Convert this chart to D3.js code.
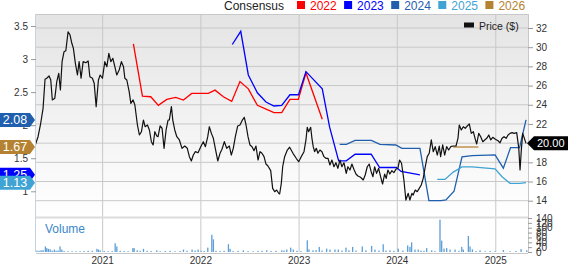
<!DOCTYPE html>
<html>
<head>
<meta charset="utf-8">
<script src="https://cdn.jsdelivr.net/npm/d3@7"></script>
<style>
  html, body { margin: 0; padding: 0; background: #fff; }
  svg { display: block; font-family: "Liberation Sans", Arial, sans-serif; }
</style>
</head>
<body>
<svg id="chart" width="568" height="264"></svg>
<script>
// ---- data (time as decimal year) ----
const years = [2021, 2022, 2023, 2024, 2025];
const priceTicks = [14, 16, 18, 20, 22, 24, 26, 28, 30, 32];
const epsTicks = [1, 1.5, 2, 2.5, 3, 3.5];
const volumeTicks = [0, 20, 40, 60, 80, 100, 120, 140];
const lastPrice = 20.00;

const price = [
  [2020.313, 19.70], [2020.344, 20.67], [2020.371, 22.07], [2020.395, 23.63], [2020.415, 26.65],
  [2020.432, 26.76], [2020.456, 27.00], [2020.473, 26.58], [2020.489, 24.50], [2020.514, 24.67],
  [2020.534, 26.40], [2020.554, 27.28], [2020.571, 25.54], [2020.588, 28.49], [2020.608, 29.53],
  [2020.626, 29.63], [2020.649, 31.61], [2020.669, 31.27], [2020.687, 30.41], [2020.703, 29.88],
  [2020.723, 28.32], [2020.744, 27.10], [2020.761, 28.49], [2020.781, 26.76], [2020.802, 28.49],
  [2020.829, 28.38], [2020.853, 28.56], [2020.870, 26.92], [2020.896, 26.76], [2020.914, 26.24],
  [2020.934, 23.80], [2020.957, 26.58], [2020.975, 27.10], [2020.998, 26.76], [2021.022, 28.49],
  [2021.043, 27.97], [2021.063, 29.36], [2021.083, 28.49], [2021.104, 28.84], [2021.124, 27.97],
  [2021.144, 27.10], [2021.168, 27.62], [2021.191, 28.49], [2021.212, 27.97], [2021.226, 26.76],
  [2021.246, 26.58], [2021.270, 25.36], [2021.287, 24.15], [2021.310, 24.50], [2021.328, 23.97],
  [2021.354, 21.89], [2021.374, 20.85], [2021.395, 21.19], [2021.415, 22.41], [2021.432, 21.71],
  [2021.456, 21.89], [2021.476, 21.37], [2021.496, 20.15], [2021.514, 19.81], [2021.531, 21.19],
  [2021.551, 20.74], [2021.564, 20.67], [2021.585, 21.79], [2021.605, 21.55], [2021.625, 19.46],
  [2021.646, 21.37], [2021.666, 22.41], [2021.679, 22.41], [2021.700, 23.80], [2021.714, 22.41],
  [2021.734, 21.37], [2021.755, 20.67], [2021.781, 20.33], [2021.808, 19.46], [2021.836, 19.70],
  [2021.862, 19.46], [2021.883, 18.59], [2021.903, 18.14], [2021.923, 18.76], [2021.944, 19.11],
  [2021.971, 19.00], [2021.999, 19.63], [2022.025, 20.15], [2022.046, 19.63], [2022.070, 20.67],
  [2022.086, 21.71], [2022.107, 21.02], [2022.127, 20.50], [2022.147, 19.46], [2022.172, 18.14],
  [2022.195, 18.94], [2022.215, 19.36], [2022.239, 20.15], [2022.263, 19.46], [2022.290, 19.70],
  [2022.310, 18.76], [2022.330, 19.46], [2022.351, 20.67], [2022.375, 21.79], [2022.398, 21.89],
  [2022.419, 22.34], [2022.442, 22.69], [2022.460, 21.89], [2022.480, 20.67], [2022.500, 19.81],
  [2022.521, 19.63], [2022.541, 19.21], [2022.561, 19.70], [2022.582, 18.24], [2022.602, 19.11],
  [2022.622, 18.94], [2022.643, 18.59], [2022.663, 17.82], [2022.683, 17.62], [2022.711, 17.13],
  [2022.731, 15.29], [2022.752, 14.94], [2022.772, 15.11], [2022.792, 14.77], [2022.802, 14.70],
  [2022.819, 15.81], [2022.833, 17.54], [2022.853, 18.59], [2022.880, 19.28], [2022.904, 19.57],
  [2022.938, 18.94], [2022.971, 18.42], [2022.996, 18.06], [2023.022, 18.59], [2023.050, 19.11],
  [2023.070, 20.33], [2023.083, 21.65], [2023.097, 21.19], [2023.118, 21.65], [2023.131, 20.50],
  [2023.144, 19.63], [2023.158, 19.11], [2023.175, 19.46], [2023.192, 18.94], [2023.212, 19.28],
  [2023.233, 19.11], [2023.253, 18.59], [2023.273, 18.42], [2023.294, 18.42], [2023.314, 17.72],
  [2023.334, 18.24], [2023.355, 17.54], [2023.375, 17.96], [2023.395, 17.38], [2023.416, 18.24],
  [2023.436, 17.54], [2023.457, 17.96], [2023.480, 16.85], [2023.497, 17.54], [2023.518, 17.20],
  [2023.538, 17.82], [2023.558, 17.27], [2023.579, 16.78], [2023.599, 16.57], [2023.626, 16.44],
  [2023.653, 16.16], [2023.673, 16.68], [2023.694, 17.54], [2023.714, 17.82], [2023.734, 17.02],
  [2023.752, 16.50], [2023.769, 17.54], [2023.789, 16.85], [2023.810, 17.38], [2023.830, 16.50],
  [2023.850, 15.74], [2023.871, 16.78], [2023.887, 16.33], [2023.904, 17.20], [2023.924, 16.78],
  [2023.945, 17.13], [2023.965, 16.92], [2023.985, 17.27], [2024.006, 17.38], [2024.023, 18.24],
  [2024.043, 17.90], [2024.067, 16.16], [2024.087, 14.07], [2024.111, 14.77], [2024.128, 14.07],
  [2024.148, 14.77], [2024.161, 14.59], [2024.182, 15.11], [2024.202, 14.94], [2024.223, 15.29],
  [2024.243, 15.64], [2024.263, 16.33], [2024.284, 17.54], [2024.304, 18.59], [2024.324, 18.94],
  [2024.345, 20.33], [2024.365, 19.11], [2024.385, 19.63], [2024.406, 18.76], [2024.426, 19.70],
  [2024.440, 18.59], [2024.461, 19.81], [2024.481, 18.76], [2024.501, 19.63], [2024.522, 19.28],
  [2024.542, 19.63], [2024.568, 19.70], [2024.596, 19.70], [2024.616, 20.50], [2024.629, 21.89],
  [2024.650, 21.37], [2024.670, 21.71], [2024.690, 21.55], [2024.711, 21.79], [2024.731, 22.00],
  [2024.751, 21.02], [2024.772, 21.19], [2024.792, 20.40], [2024.806, 19.91], [2024.827, 21.02],
  [2024.847, 20.67], [2024.868, 20.15], [2024.888, 20.33], [2024.908, 20.50], [2024.929, 20.85],
  [2024.949, 20.33], [2024.969, 20.61], [2024.996, 20.40], [2025.023, 20.25], [2025.043, 20.04],
  [2025.064, 20.50], [2025.084, 20.67], [2025.105, 20.50], [2025.125, 20.85], [2025.145, 21.02],
  [2025.166, 21.09], [2025.186, 21.02], [2025.213, 21.09], [2025.234, 19.46], [2025.247, 17.20],
  [2025.260, 19.28], [2025.274, 21.02], [2025.291, 20.50], [2025.308, 19.98]
];

// consensus EPS estimates per fiscal year
const eps2022 = [
  [2021.313, 3.23], [2021.405, 2.44], [2021.490, 2.43], [2021.567, 2.30], [2021.653, 2.39],
  [2021.744, 2.42], [2021.822, 2.38], [2021.907, 2.48], [2022.076, 2.48], [2022.144, 2.53],
  [2022.229, 2.43], [2022.314, 2.36], [2022.398, 2.66], [2022.483, 2.55], [2022.575, 2.30],
  [2022.670, 2.24], [2022.744, 2.19], [2022.823, 2.19], [2022.907, 2.39], [2022.992, 2.39],
  [2023.070, 2.79], [2023.236, 2.09]
];
const eps2023 = [
  [2022.320, 3.22], [2022.406, 3.42], [2022.483, 2.76], [2022.575, 2.49], [2022.663, 2.35],
  [2022.744, 2.29], [2022.823, 2.30], [2022.907, 2.46], [2022.994, 2.46], [2023.070, 2.81],
  [2023.236, 2.55], [2023.311, 1.97], [2023.403, 1.46], [2023.480, 1.46], [2023.571, 1.56],
  [2023.734, 1.56], [2023.820, 1.36], [2023.989, 1.36], [2024.039, 1.30], [2024.230, 1.25]
];
const eps2024 = [
  [2023.413, 1.71], [2023.482, 1.71], [2023.570, 1.77], [2023.736, 1.77], [2023.823, 1.71],
  [2023.985, 1.70], [2024.047, 1.65], [2024.230, 1.65], [2024.321, 0.86], [2024.443, 0.86],
  [2024.494, 0.87], [2024.576, 1.00], [2024.657, 1.52], [2024.759, 1.54], [2024.993, 1.55],
  [2025.077, 1.35], [2025.150, 1.66], [2025.242, 1.66], [2025.308, 2.08]
];
const eps2025 = [
  [2024.406, 1.18], [2024.484, 1.18], [2024.568, 1.29], [2024.657, 1.37], [2024.759, 1.37],
  [2024.993, 1.34], [2025.064, 1.22], [2025.145, 1.12], [2025.247, 1.12], [2025.308, 1.13]
];
const eps2026 = [[2024.568, 1.67], [2024.823, 1.67]];

// weekly volume (weeks with a visible bar)
const volume = [
  [2020.333, 6], [2020.354, 5], [2020.374, 7], [2020.394, 8], [2020.418, 23], [2020.432, 16],
  [2020.448, 13], [2020.466, 11], [2020.486, 6], [2020.509, 10], [2020.527, 5], [2020.547, 6],
  [2020.567, 23], [2020.585, 10], [2020.608, 4], [2020.649, 3], [2020.689, 3], [2020.730, 3],
  [2020.771, 3], [2020.811, 4], [2020.852, 5], [2020.893, 5], [2020.941, 13], [2020.957, 10],
  [2020.974, 6], [2021.015, 4], [2021.056, 3], [2021.096, 4], [2021.127, 36], [2021.144, 23],
  [2021.178, 5], [2021.218, 4], [2021.259, 3], [2021.307, 16], [2021.320, 16], [2021.351, 7],
  [2021.381, 5], [2021.415, 13], [2021.452, 5], [2021.493, 4], [2021.551, 7], [2021.585, 3],
  [2021.636, 4], [2021.686, 5], [2021.737, 3], [2021.788, 4], [2021.822, 10], [2021.859, 5],
  [2021.910, 10], [2021.941, 6], [2021.971, 10], [2022.002, 5], [2022.032, 4], [2022.070, 18],
  [2022.111, 71], [2022.127, 52], [2022.154, 5], [2022.195, 4], [2022.236, 5], [2022.280, 32],
  [2022.297, 13], [2022.327, 4], [2022.378, 5], [2022.432, 7], [2022.480, 4], [2022.531, 3],
  [2022.582, 4], [2022.622, 5], [2022.670, 7], [2022.714, 4], [2022.765, 5], [2022.823, 7],
  [2022.846, 6], [2022.874, 10], [2022.914, 18], [2022.941, 10], [2022.978, 5], [2023.019, 4],
  [2023.083, 48], [2023.100, 11], [2023.141, 7], [2023.172, 8], [2023.205, 21], [2023.233, 6],
  [2023.280, 14], [2023.314, 10], [2023.365, 10], [2023.399, 10], [2023.436, 6], [2023.477, 18],
  [2023.507, 7], [2023.545, 21], [2023.579, 6], [2023.643, 23], [2023.680, 7], [2023.738, 25],
  [2023.772, 10], [2023.813, 6], [2023.856, 32], [2023.884, 6], [2023.924, 7], [2023.965, 5],
  [2024.009, 14], [2024.057, 6], [2024.105, 27], [2024.128, 21], [2024.145, 40], [2024.179, 10],
  [2024.212, 10], [2024.240, 6], [2024.270, 5], [2024.298, 16], [2024.349, 7], [2024.382, 4],
  [2024.433, 133], [2024.450, 47], [2024.474, 14], [2024.501, 16], [2024.535, 10], [2024.586, 10],
  [2024.626, 5], [2024.654, 21], [2024.670, 10], [2024.721, 66], [2024.738, 23], [2024.762, 11],
  [2024.799, 4], [2024.840, 7], [2024.891, 3], [2024.942, 4], [2024.993, 3], [2025.077, 8],
  [2025.145, 3], [2025.206, 4], [2025.257, 12], [2025.315, 7]
];

const seriesColors = { 2022: '#ff0000', 2023: '#0000ff', 2024: '#1f5fae', 2025: '#3fa3d4', 2026: '#b58231' };

// ---- helpers ----
function toDate(t) {
  const y = Math.floor(t);
  const a = new Date(y, 0, 1), b = new Date(y + 1, 0, 1);
  return new Date(+a + (t - y) * (b - a));
}

const L = 36, R = 528, T = 14, PB = 217, VT = 218, VB = 252;

const x = d3.scaleTime().domain([toDate(2020.3232), toDate(2025.328)]).range([L, R]);
const yPrice = d3.scaleLinear().domain([14, 32]).range([200.7, 28]);
const yEps = d3.scaleLinear().domain([1, 3.5]).range([191.3, 26]);
const yVol = d3.scaleLinear().domain([0, 140]).range([VB, VT]);

const svg = d3.select('#chart');

// background gradient of price pane
const defs = svg.append('defs');
const grad = defs.append('linearGradient').attr('id', 'bg').attr('x1', 0).attr('y1', 0).attr('x2', 0).attr('y2', 1);
grad.append('stop').attr('offset', '0%').attr('stop-color', '#e4e4e4');
grad.append('stop').attr('offset', '100%').attr('stop-color', '#ffffff');
defs.append('clipPath').attr('id', 'clip').append('rect')
  .attr('x', L).attr('y', T).attr('width', R - L).attr('height', PB - T);

svg.append('rect').attr('x', L).attr('y', T).attr('width', R - L).attr('height', PB - T)
  .attr('fill', 'url(#bg)');

// grid
svg.append('g').selectAll('line').data(priceTicks).join('line')
  .attr('x1', L).attr('x2', R)
  .attr('y1', d => yPrice(d)).attr('y2', d => yPrice(d))
  .attr('stroke', '#c8c8c8').attr('stroke-width', 1);

svg.append('g').selectAll('line').data(years).join('line')
  .attr('x1', d => x(new Date(d, 0, 1))).attr('x2', d => x(new Date(d, 0, 1)))
  .attr('y1', T).attr('y2', VB)
  .attr('stroke', '#c8c8c8').attr('stroke-width', 1);

// frame
svg.append('line').attr('x1', L).attr('x2', R).attr('y1', T + 0.5).attr('y2', T + 0.5).attr('stroke', '#c8c8c8');
svg.append('line').attr('x1', L).attr('x2', R).attr('y1', PB + 0.5).attr('y2', PB + 0.5)
  .attr('stroke', '#dcdcdc').attr('stroke-width', 2);
svg.append('line').attr('x1', R + 0.5).attr('x2', R + 0.5).attr('y1', T).attr('y2', VB).attr('stroke', '#c8c8c8');
svg.append('line').attr('x1', L - 0.5).attr('x2', L - 0.5).attr('y1', T).attr('y2', VB).attr('stroke', '#c9d3e0');
svg.append('line').attr('x1', L).attr('x2', R).attr('y1', VB + 1.5).attr('y2', VB + 1.5).attr('stroke', '#c8c8c8');

// volume bars
svg.append('g').selectAll('rect').data(volume).join('rect')
  .attr('x', d => x(toDate(d[0])) - 0.6)
  .attr('width', 1.3)
  .attr('y', d => yVol(d[1]))
  .attr('height', d => VB - yVol(d[1]))
  .attr('fill', '#5d9fd6');

svg.append('text').attr('x', 45).attr('y', 233).attr('font-size', 12)
  .attr('fill', '#3b87c9').text('Volume');

// consensus lines
const plot = svg.append('g').attr('clip-path', 'url(#clip)');
const epsLine = d3.line().x(d => x(toDate(d[0]))).y(d => yEps(d[1]));
[[eps2022, 2022], [eps2023, 2023], [eps2024, 2024], [eps2025, 2025], [eps2026, 2026]].forEach(([s, yr]) => {
  plot.append('path').datum(s).attr('d', epsLine)
    .attr('fill', 'none').attr('stroke', seriesColors[yr]).attr('stroke-width', 1.3);
});

// price line
const priceLine = d3.line().x(d => x(toDate(d[0]))).y(d => yPrice(d[1]));
plot.append('path').datum(price).attr('d', priceLine)
  .attr('fill', 'none').attr('stroke', '#111').attr('stroke-width', 1.2)
  .attr('stroke-linejoin', 'round');

// right price axis
const axisColor = '#333';
const rightAxis = svg.append('g').attr('transform', `translate(${R},0)`)
  .call(d3.axisRight(yPrice).tickValues(priceTicks).tickSize(5).tickPadding(3));
rightAxis.select('.domain').remove();
rightAxis.selectAll('line').attr('stroke', '#999');
rightAxis.selectAll('text').attr('font-size', 10).attr('fill', axisColor)
  .attr('font-family', '"Liberation Sans", Arial, sans-serif');

// right volume axis
const volAxis = svg.append('g').attr('transform', `translate(${R},0)`)
  .call(d3.axisRight(yVol).tickValues(volumeTicks).tickSize(4).tickPadding(4));
volAxis.select('.domain').remove();
volAxis.selectAll('line').attr('stroke', '#999');
volAxis.selectAll('text').attr('font-size', 10).attr('fill', axisColor)
  .attr('font-family', '"Liberation Sans", Arial, sans-serif');

// left EPS axis
const leftAxis = svg.append('g').attr('transform', `translate(${L},0)`)
  .call(d3.axisLeft(yEps).tickValues(epsTicks).tickSize(5).tickPadding(3).tickFormat(d3.format('~g')));
leftAxis.select('.domain').remove();
leftAxis.selectAll('line').attr('stroke', '#999');
leftAxis.selectAll('text').attr('font-size', 10).attr('fill', axisColor)
  .attr('font-family', '"Liberation Sans", Arial, sans-serif');

// bottom axis (years)
svg.append('g').selectAll('text').data(years).join('text')
  .attr('x', d => x(new Date(d, 0, 1)))
  .attr('y', 263.5)
  .attr('text-anchor', 'middle')
  .attr('font-size', 10).attr('fill', axisColor)
  .text(d => d);

// legend
svg.append('text').attr('x', 224).attr('y', 10).attr('font-size', 12).attr('fill', '#222').text('Consensus');
const legend = svg.append('g').selectAll('g').data([2022, 2023, 2024, 2025, 2026]).join('g')
  .attr('transform', (d, i) => `translate(${297 + i * 47.1},0)`);
legend.append('rect').attr('x', 0).attr('y', 1).attr('width', 8).attr('height', 8)
  .attr('fill', d => seriesColors[d]);
legend.append('text').attr('x', 13).attr('y', 10).attr('font-size', 12)
  .attr('fill', d => seriesColors[d]).text(d => d);

svg.append('rect').attr('x', 464).attr('y', 22.5).attr('width', 10).attr('height', 5).attr('fill', '#111');
svg.append('text').attr('x', 479).attr('y', 29.5).attr('font-size', 10.5).attr('fill', '#222').text('Price ($)');

// left badges with latest consensus values
const badges = [
  { v: eps2024[eps2024.length - 1][1], c: seriesColors[2024] },
  { v: eps2026[eps2026.length - 1][1], c: seriesColors[2026] },
  { v: eps2023[eps2023.length - 1][1], c: seriesColors[2023] },
  { v: eps2025[eps2025.length - 1][1], c: seriesColors[2025] }
];
const bg = svg.append('g').selectAll('g').data(badges).join('g')
  .attr('transform', d => `translate(0,${yEps(d.v)})`);
bg.append('path').attr('d', 'M0,-7 L30,-7 L35,0 L30,7 L0,7 Z').attr('fill', d => d.c);
bg.append('text').attr('x', 15).attr('y', 4.5).attr('text-anchor', 'middle')
  .attr('font-size', 12.5).attr('fill', '#fff').text(d => d3.format('.2f')(d.v));

// right price badge
const pb = svg.append('g').attr('transform', `translate(0,${yPrice(lastPrice)})`);
pb.append('path').attr('d', 'M527,0 L534,-7 L568,-7 L568,7 L534,7 Z').attr('fill', '#000');
pb.append('text').attr('x', 537).attr('y', 4).attr('font-size', 11).attr('fill', '#fff')
  .text(d3.format('.2f')(lastPrice));
</script>
</body>
</html>
